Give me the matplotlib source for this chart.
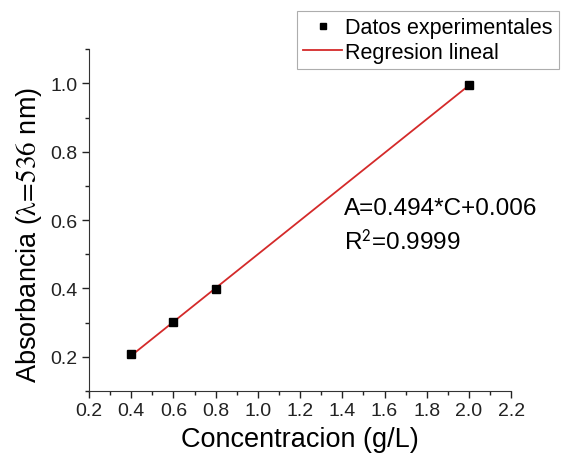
import matplotlib.pyplot as plt
import numpy as np
from matplotlib.ticker import MultipleLocator

plt.rcParams['font.family'] = ['Liberation Sans', 'DejaVu Sans']
plt.rcParams['mathtext.fontset'] = 'stix'

conc = [0.4, 0.6, 0.8, 2.0]
absorb = [0.207, 0.302, 0.398, 0.995]
slope = 0.494
intercept = 0.006

fig = plt.figure(figsize=(5.63, 4.64), dpi=100)
ax = fig.add_axes([0.158, 0.155, 0.750, 0.737])

xfit = np.array([min(conc), max(conc)])
line, = ax.plot(xfit, slope * xfit + intercept, color='#d42a2a', lw=1.3, zorder=2)
pts, = ax.plot(conc, absorb, 's', color='black', ms=5.5, zorder=3)

ax.set_xlim(0.2, 2.2)
ax.set_ylim(0.1, 1.1)
ax.xaxis.set_major_locator(MultipleLocator(0.2))
ax.xaxis.set_minor_locator(MultipleLocator(0.1))
ax.yaxis.set_major_locator(MultipleLocator(0.2))
ax.yaxis.set_minor_locator(MultipleLocator(0.1))
ax.set_yticks([0.2, 0.4, 0.6, 0.8, 1.0])
ax.tick_params(which='major', direction='out', length=5, width=1, labelsize=14,
               colors='#222222', pad=3)
ax.tick_params(which='minor', direction='out', length=3, width=1, colors='#222222')
for s in ['top', 'right']:
    ax.spines[s].set_visible(False)
for s in ['left', 'bottom']:
    ax.spines[s].set_color('#333333')

ax.set_xlabel('Concentracion (g/L)', fontsize=19.5, labelpad=5)
ax.set_ylabel(r'Absorbancia ($\mathrm{\lambda}\!=\!536$ nm)', fontsize=19.5)
ax.yaxis.set_label_coords(-0.107, 0.46)

ax.text(1.41, 0.634, 'A=0.494*C+0.006', fontsize=17.5, va='center')
ax.text(1.41, 0.537, r'R$^\mathsf{2}$=0.9999', fontsize=17.5, va='center')

leg = fig.legend([pts, line], ['Datos experimentales', 'Regresion lineal'],
                 loc='upper left', bbox_to_anchor=(297 / 563, 1 - 12 / 464),
                 fontsize=15.5, frameon=True, fancybox=False, borderpad=0.3,
                 handlelength=1.8, handletextpad=0.15, labelspacing=0.15,
                 borderaxespad=0, markerscale=0.85)
leg.get_frame().set_edgecolor('#999999')
leg.get_frame().set_linewidth(0.8)

fig.savefig('out.png', dpi=100)
